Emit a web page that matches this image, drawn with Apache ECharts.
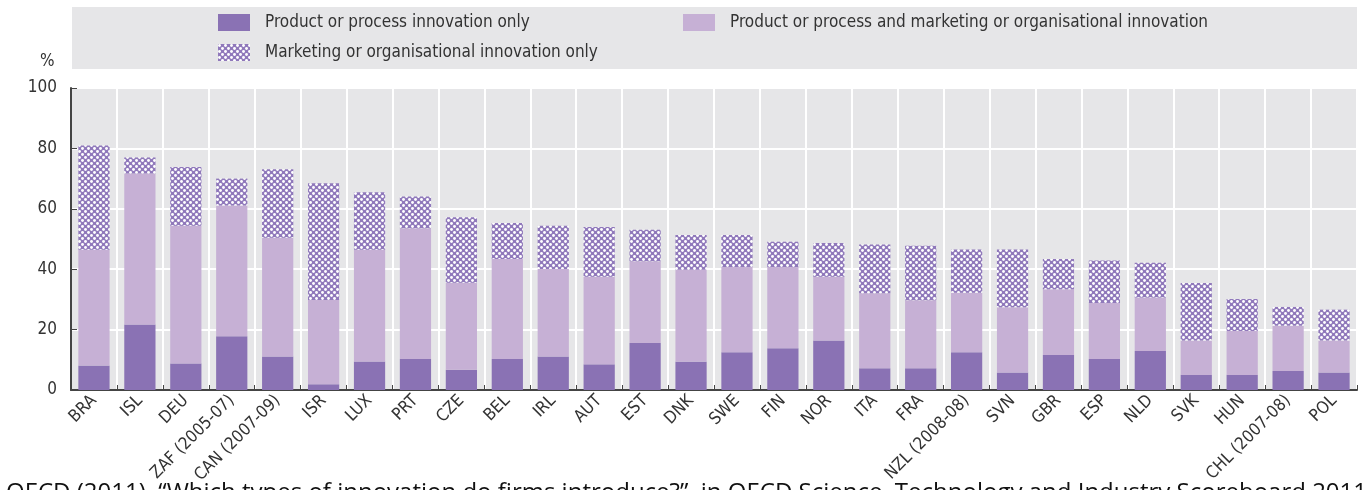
<!DOCTYPE html>
<html>
<head>
<meta charset="utf-8">
<script src="https://cdn.jsdelivr.net/npm/echarts@6/dist/echarts.min.js"></script>
<style>
html,body{margin:0;padding:0;background:#fff;}
#c{width:1362px;height:490px;}
</style>
</head>
<body>
<div id="c"></div>
<script>
const categories = ['BRA','ISL','DEU','ZAF (2005-07)','CAN (2007-09)','ISR','LUX','PRT','CZE','BEL','IRL','AUT','EST','DNK','SWE','FIN','NOR','ITA','FRA','NZL (2008-08)','SVN','GBR','ESP','NLD','SVK','HUN','CHL (2007-08)','POL'];
const productOnly = [8.1,21.7,8.8,17.8,11.1,1.9,9.4,10.3,6.7,10.3,11.1,8.5,15.6,9.4,12.5,13.8,16.4,7.2,7.2,12.5,5.8,11.6,10.3,12.9,5.0,5.0,6.3,5.8];
const combined = [38.3,50.0,45.6,43.3,39.3,27.9,37.0,43.3,28.8,33.1,29.0,29.0,27.0,30.4,28.2,26.9,21.1,24.8,22.5,19.7,21.6,21.8,18.5,17.7,11.4,14.5,15.0,10.6];
const marketingOnly = [34.6,5.3,19.4,8.9,22.7,38.7,19.1,10.5,21.7,11.9,14.3,16.5,10.5,11.5,10.6,8.4,11.2,16.2,18.1,14.3,19.1,10.0,14.1,11.5,19.0,10.6,6.2,10.2];
const seriesNames = ['Product or process innovation only','Product or process and marketing or organisational innovation','Marketing or organisational innovation only'];
const yTicks = [0,20,40,60,80,100];
const sourceText = 'OECD (2011), \u201cWhich types of innovation do firms introduce?\u201d, in OECD Science, Technology and Industry Scoreboard 2011, OECD Publishing.';

const FONT = '"Liberation Sans Narrow","DejaVu Sans Condensed","Roboto Condensed",sans-serif';
const DARK = '#8a72b4';
const LIGHT = '#c6b0d5';

// crosshatch pattern
const pc = document.createElement('canvas');
pc.width = 6; pc.height = 6;
const g = pc.getContext('2d');
g.fillStyle = '#9079bb';
g.fillRect(0,0,6,6);
g.fillStyle = '#ffffff';
[[1.5,1.5],[4.5,4.5]].forEach(p=>{g.beginPath();g.arc(p[0],p[1],1.45,0,Math.PI*2);g.fill();});
const pattern = {image: pc, repeat: 'repeat'};

const chart = echarts.init(document.getElementById('c'), null, {renderer:'canvas'});
const legendCommon = {
  orient:'horizontal', itemWidth:32, itemHeight:17, icon:'rect',
  textStyle:{fontFamily:FONT, fontSize:17, color:'#333', padding:[0,0,0,10]},
  selectedMode:false
};
chart.setOption({
  animation:false,
  graphic:[
    {type:'rect', shape:{x:72,y:7,width:1285,height:62}, style:{fill:'#e6e6e8'}, z:-10},
    {type:'text', left:40, top:53, style:{text:'%', font:'17px '+FONT, fill:'#333'}},
    {type:'text', left:6, top:481, style:{text:sourceText, font:'24px "Open Sans",sans-serif', fill:'#111'}}
  ],
  legend:[
    Object.assign({}, legendCommon, {left:213, top:9, data:[seriesNames[0]]}),
    Object.assign({}, legendCommon, {left:678, top:9, data:[seriesNames[1]]}),
    Object.assign({}, legendCommon, {left:213, top:39, data:[seriesNames[2]]})
  ],
  grid:{left:71, right:5, top:88, bottom:100, show:true, backgroundColor:'#e6e6e8', borderWidth:0},
  xAxis:{
    type:'category', data:categories,
    axisLine:{show:true, lineStyle:{color:'#444', width:2}},
    axisTick:{show:true, inside:true, length:5, lineStyle:{color:'#444'}},
    splitLine:{show:true, lineStyle:{color:'#ffffff', width:2}},
    axisLabel:{rotate:45, interval:0, fontFamily:FONT, fontSize:17, color:'#333', margin:8}
  },
  yAxis:{
    type:'value', min:0, max:100, interval:20,
    axisLine:{show:true, lineStyle:{color:'#444', width:2}},
    axisTick:{show:true, inside:true, length:6, lineStyle:{color:'#444'}},
    splitLine:{show:true, lineStyle:{color:'#ffffff', width:2}},
    axisLabel:{fontFamily:FONT, fontSize:17, color:'#333', margin:14,
      formatter:v=> yTicks.indexOf(v)>=0 ? String(v) : ''}
  },
  series:[
    {name:seriesNames[0], type:'bar', stack:'a', data:productOnly, barCategoryGap:'32%', itemStyle:{color:DARK}},
    {name:seriesNames[1], type:'bar', stack:'a', data:combined, itemStyle:{color:LIGHT}},
    {name:seriesNames[2], type:'bar', stack:'a', data:marketingOnly, itemStyle:{color:pattern}}
  ]
});
</script>
</body>
</html>
